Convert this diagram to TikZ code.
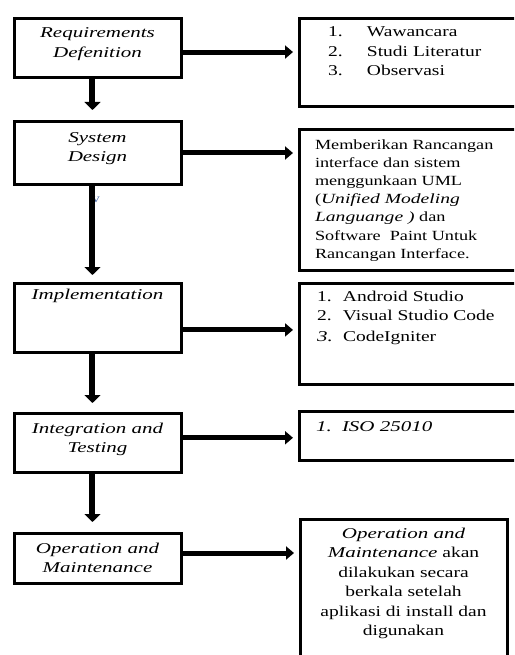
\documentclass[tikz,border=0pt]{standalone}
\usepackage{fontspec}
\setmainfont{Liberation Serif}[UprightFeatures={FakeStretch=1.3},ItalicFeatures={FakeStretch=1.4}]
\usetikzlibrary{calc,arrows.meta}
\definecolor{strayblue}{RGB}{80,110,170}
\newcommand{\cellbox}[3]{\parbox[c][#2][t]{#1}{#3}}
\newcommand{\numitem}[3]{\hspace*{#1}\makebox[#2][l]{#3}}

\begin{document}
\begin{tikzpicture}[x=1pt,y=-1pt,
  stage/.style={draw,line width=3pt,inner sep=0pt,outer sep=0pt,anchor=north west,
    font=\fontsize{15}{19.5}\selectfont},
  hflow/.style={line width=5pt,-{Triangle[width=13pt,length=8pt]},shorten >=6pt},
  vflow/.style={line width=6pt,-{Triangle[width=16pt,length=8pt]}}]
\useasboundingbox (0,0) rectangle (514,655);
\clip (0,0) rectangle (514,655);
% left column
\node[stage] (reqdef) at (14,19) {\cellbox{167pt}{59pt}{\centering\rule{0pt}{19pt}\textit{Requirements}\\\textit{Defenition}}};
\node[stage] (sysdes) at (14,122) {\cellbox{167pt}{62pt}{\centering\rule{0pt}{20pt}\textit{System}\\\textit{Design}}};
\node[stage] (impl) at (14,283) {\cellbox{167pt}{69pt}{\centering\rule{0pt}{16pt}\textit{Implementation}}};
\node[stage] (integ) at (14,413) {\cellbox{167pt}{59pt}{\centering\rule{0pt}{20pt}\textit{Integration and}\\\textit{Testing}}};
\node[stage] (opmt) at (14,533) {\cellbox{167pt}{50pt}{\centering\rule{0pt}{20pt}\textit{Operation and}\\\textit{Maintenance}}};
% right column
\node[stage] (reqinfo) at (299,19) {\cellbox{250pt}{88pt}{\raggedright\rule{0pt}{18pt}%
\numitem{29pt}{39pt}{1.}Wawancara\\
\numitem{29pt}{39pt}{2.}Studi Literatur\\
\numitem{29pt}{39pt}{3.}Observasi}};
\node[stage,font=\fontsize{14}{18.2}\selectfont] (sysinfo) at (299,130) {\cellbox{250pt}{140pt}{\raggedright\rule{0pt}{19pt}%
\hspace*{16pt}Memberikan Rancangan\\
\hspace*{16pt}interface dan sistem\\
\hspace*{16pt}menggunkaan UML\\
\hspace*{16pt}(\textit{Unified Modeling}\\
\hspace*{16pt}\textit{Languange )} dan\\
\hspace*{16pt}Software\ \ Paint Untuk\\
\hspace*{16pt}Rancangan Interface.}};
\node[stage] (implinfo) at (299,283) {\cellbox{250pt}{101pt}{\raggedright\rule{0pt}{18pt}%
\numitem{18pt}{26pt}{1.}Android Studio\\
\numitem{18pt}{26pt}{2.}Visual Studio Code\\[1.5pt]
\numitem{18pt}{26pt}{\textit{3.}}CodeIgniter}};
\node[stage] (integinfo) at (299,411) {\cellbox{250pt}{49pt}{\raggedright\rule{0pt}{20pt}%
\numitem{17pt}{26pt}{\textit{1.}}\textit{ISO 25010}}};
\node[stage] (opmtinfo) at (300,519) {\cellbox{207pt}{200pt}{\centering\rule{0pt}{19pt}%
\textit{Operation and}\\
\textit{Maintenance} akan\\
dilakukan secara\\
berkala setelah\\
aplikasi di install dan\\
digunakan}};
\node[font=\fontsize{12}{12}\selectfont,text=strayblue,inner sep=0pt] (stray) at (96,200) {v};
% arrows to the right
\draw[hflow] ($(reqdef.north east)!.56!(reqdef.south east)$) coordinate (h1) -- (h1 -| reqinfo.west);
\draw[hflow] ($(sysdes.north east)!.5!(sysdes.south east)$) coordinate (h2) -- (h2 -| sysinfo.west);
\draw[hflow] ($(impl.north east)!.68!(impl.south east)$) coordinate (h3) -- (h3 -| implinfo.west);
\draw[hflow] ($(integ.north east)!.42!(integ.south east)$) coordinate (h4) -- (h4 -| integinfo.west);
\draw[hflow] ($(opmt.north east)!.4!(opmt.south east)$) coordinate (h5) -- (h5 -| opmtinfo.west);
% arrows down
\draw[vflow,shorten >=12pt] ($(reqdef.south west)!.47!(reqdef.south east)$) coordinate (d1) -- (d1 |- sysdes.north);
\draw[vflow,shorten >=8pt] ($(sysdes.south west)!.47!(sysdes.south east)$) coordinate (d2) -- (d2 |- impl.north);
\draw[vflow,shorten >=10pt] ($(impl.south west)!.47!(impl.south east)$) coordinate (d3) -- (d3 |- integ.north);
\draw[vflow,shorten >=11pt] ($(integ.south west)!.47!(integ.south east)$) coordinate (d4) -- (d4 |- opmt.north);
\end{tikzpicture}
\end{document}
